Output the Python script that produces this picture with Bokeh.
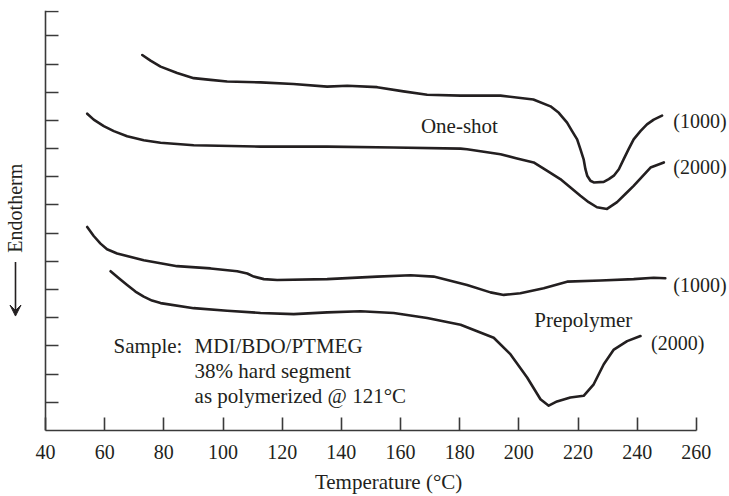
from math import pi
from bokeh.plotting import figure
from bokeh.models import (Range1d, FixedTicker, Label, Arrow, VeeHead,
                          CustomJSTickFormatter)
from bokeh.embed import file_html
from bokeh.resources import INLINE

# ---------------- data (temperature in °C, relative heat-flow units) -------------
oneshot_1000_T = [72.7, 75.5, 78.9, 84.5, 90.1, 95.8, 101.4, 112.7, 123.8, 135.2, 142.0,
                  152.1, 161.0, 169.0, 180.3, 193.8, 204.9, 210.7, 213.5, 216.3, 218.0,
                  219.7, 220.8, 221.9, 222.5, 223.1, 224.2, 225.3, 228.7, 230.4, 232.1,
                  233.8, 235.4, 237.1, 238.8, 241.1, 243.3, 245.6, 248.4]
oneshot_1000_Y = [13.32, 13.12, 12.91, 12.68, 12.50, 12.44, 12.38, 12.35, 12.29, 12.20,
                  12.23, 12.18, 12.03, 11.91, 11.88, 11.88, 11.74, 11.50, 11.27, 10.92,
                  10.62, 10.33, 9.98, 9.62, 9.27, 9.04, 8.86, 8.80, 8.82, 8.92, 9.04,
                  9.27, 9.62, 9.98, 10.33, 10.62, 10.86, 11.03, 11.17]

oneshot_2000_T = [54.1, 56.3, 59.7, 63.1, 67.6, 73.2, 78.9, 90.1, 112.7, 135.2, 157.7,
                  180.3, 182.5, 193.8, 199.4, 205.0, 209.6, 214.0, 220.8, 223.6, 226.4,
                  229.8, 233.2, 236.0, 238.8, 244.5, 249.0]
oneshot_2000_Y = [11.24, 11.03, 10.80, 10.62, 10.44, 10.30, 10.21, 10.12, 10.07, 10.07,
                  10.04, 10.00, 9.98, 9.80, 9.65, 9.51, 9.21, 8.92, 8.33, 8.10, 7.92,
                  7.86, 8.10, 8.39, 8.68, 9.33, 9.51]

prepoly_1000_T = [54.1, 56.3, 58.6, 60.8, 64.2, 73.2, 84.5, 95.8, 104.8, 108.2, 110.4,
                  113.8, 118.3, 135.2, 152.1, 163.4, 171.2, 182.5, 190.4, 194.9, 200.5,
                  208.4, 216.3, 227.6, 238.8, 245.6, 249.5]
prepoly_1000_Y = [7.22, 6.90, 6.63, 6.43, 6.28, 6.04, 5.83, 5.75, 5.65, 5.57, 5.46,
                  5.37, 5.34, 5.37, 5.46, 5.51, 5.46, 5.16, 4.90, 4.81, 4.87,
                  5.05, 5.28, 5.32, 5.37, 5.42, 5.40]

prepoly_2000_T = [62.0, 64.8, 67.6, 70.4, 73.2, 76.0, 78.9, 90.1, 101.4, 112.7, 123.9,
                  135.2, 146.5, 157.7, 169.0, 180.3, 191.5, 197.2, 202.8, 207.3, 210.1,
                  212.9, 217.4, 221.9, 225.3, 228.7, 232.1, 236.6, 241.1]
prepoly_2000_Y = [5.65, 5.40, 5.16, 4.93, 4.75, 4.61, 4.52, 4.34, 4.25, 4.17, 4.13,
                  4.19, 4.23, 4.17, 3.99, 3.75, 3.29, 2.70, 1.88, 1.11, 0.88,
                  1.03, 1.17, 1.23, 1.64, 2.35, 2.87, 3.17, 3.35]

x_ticks = [40, 60, 80, 100, 120, 140, 160, 180, 200, 220, 240, 260]
y_ticks = [1, 2, 3, 4, 5, 6, 7, 8, 9, 10, 11, 12, 13, 14, 14.88]

curve_names = ["(1000)", "(2000)", "(1000)", "(2000)"]
group_names = ["One-shot", "Prepolymer"]
sample_text = ["Sample:", "MDI/BDO/PTMEG", "38% hard segment", "as polymerized @ 121°C"]
y_title = "Endotherm"
x_title = "Temperature (°C)"

FONT = "Liberation Serif"
FS = "21px"
FS_TICK = "20px"
INK = "#231f20"
AXC = "#3a3a3a"

X_MIN, X_MAX = 40, 260
# frame spans the whole width; the axes are drawn only over 40..260
p = figure(width=729, height=496, output_backend="svg", toolbar_location=None,
           x_range=Range1d(24.79, 271.2), y_range=Range1d(0, 14.9),
           min_border_left=0, min_border_right=0, min_border_top=10,
           min_border_bottom=63)
p.outline_line_color = None
p.xgrid.visible = False
p.ygrid.visible = False
p.background_fill_color = "white"
p.border_fill_color = "white"

for series_T, series_Y in [(oneshot_1000_T, oneshot_1000_Y), (oneshot_2000_T, oneshot_2000_Y),
                           (prepoly_1000_T, prepoly_1000_Y), (prepoly_2000_T, prepoly_2000_Y)]:
    p.line(series_T, series_Y, line_color=INK, line_width=2.6, line_join="round",
           line_cap="round")

xa = p.xaxis[0]
xa.bounds = (X_MIN, X_MAX)
xa.ticker = FixedTicker(ticks=x_ticks)
xa.major_tick_in = 13
xa.major_tick_out = 0
xa.minor_tick_in = 0
xa.minor_tick_out = 0
xa.axis_line_color = AXC
xa.axis_line_width = 1.6
xa.major_tick_line_color = AXC
xa.major_tick_line_width = 1.6
xa.major_label_text_font = FONT
xa.major_label_text_font_size = FS_TICK
xa.major_label_text_color = INK
xa.major_label_standoff = 14
# leading no-break spaces shift the centred title a little to the right
xa.axis_label = "\u00a0" * 9 + x_title
xa.axis_label_text_font = FONT
xa.axis_label_text_font_size = FS
xa.axis_label_text_font_style = "normal"
xa.axis_label_text_color = INK
xa.axis_label_standoff = 8

ya = p.yaxis[0]
ya.fixed_location = X_MIN
ya.ticker = FixedTicker(ticks=y_ticks)
ya.major_tick_in = 13
ya.major_tick_out = 0
ya.minor_tick_in = 0
ya.minor_tick_out = 0
ya.axis_line_color = AXC
ya.axis_line_width = 1.6
ya.major_tick_line_color = AXC
ya.major_tick_line_width = 1.6
ya.formatter = CustomJSTickFormatter(code="return ''")
ya.major_label_standoff = 0


def lab(text, x, y, align="left", angle=0.0, size=FS):
    p.add_layout(Label(x=x, y=y, text=text, angle=angle,
                       text_font=FONT, text_font_size=size, text_color=INK,
                       text_align=align, text_baseline="middle"))


# curve tags to the right of the curve ends
lab(curve_names[0], 252.2, 10.97, size=FS_TICK)
lab(curve_names[1], 252.2, 9.34, size=FS_TICK)
lab(curve_names[2], 252.2, 5.15, size=FS_TICK)
lab(curve_names[3], 244.7, 3.11, size=FS_TICK)

lab(group_names[0], 179.9, 10.82, align="center")
lab(group_names[1], 221.8, 3.92, align="center")

lab(sample_text[0], 63.0, 3.0)
lab(sample_text[1], 90.4, 3.0)
lab(sample_text[2], 90.4, 2.11)
lab(sample_text[3], 90.4, 1.23)

# vertical "Endotherm" with a downward arrow, left of the axis
lab(y_title, 29.86, 6.31, angle=pi / 2, size=FS_TICK)
p.add_layout(Arrow(x_start=29.86, y_start=5.98, x_end=29.86, y_end=4.06,
                   line_color=INK, line_width=1.6,
                   end=VeeHead(size=11, fill_color=INK, line_color=INK)))

open("out.html", "w").write(file_html(p, INLINE))
